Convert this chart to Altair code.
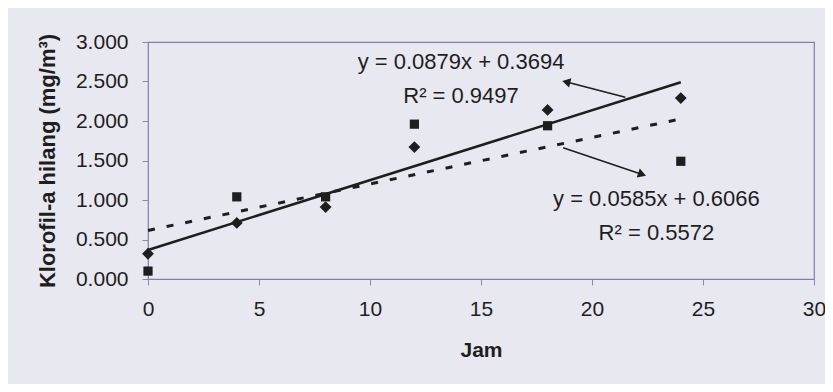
import altair as alt
import pandas as pd

# Observed data (hours vs chlorophyll-a lost)
jam = [0, 4, 8, 12, 18, 24]
diamond_vals = [0.32, 0.71, 0.91, 1.67, 2.14, 2.29]   # solid trend series
square_vals = [0.10, 1.04, 1.04, 1.96, 1.94, 1.49]    # dashed trend series

# Annotation texts and their anchor positions (data units)
ann_text = ["y = 0.0879x + 0.3694", "R\u00b2 = 0.9497", "y = 0.0585x + 0.6066", "R\u00b2 = 0.5572"]
ann_x = [14.1, 14.1, 22.9, 22.9]
ann_y = [2.75, 2.32, 1.01, 0.58]

# Arrows: tail -> head (data units)
arr_x1 = [21.5, 18.7]
arr_y1 = [2.30, 1.66]
arr_x2 = [18.9, 22.2]
arr_y2 = [2.49, 1.33]
arr_angle = [284, 109]

x_ticks = [0, 5, 10, 15, 20, 25, 30]
y_ticks = [0, 0.5, 1, 1.5, 2, 2.5, 3]

df_d = pd.DataFrame({"jam": jam, "val": diamond_vals})
df_s = pd.DataFrame({"jam": jam, "val": square_vals})
df_ann = pd.DataFrame({"jam": ann_x, "val": ann_y, "t": ann_text})
df_arr = pd.DataFrame({"jam": arr_x1, "val": arr_y1, "jam2": arr_x2, "val2": arr_y2, "ang": arr_angle})
df_head = pd.DataFrame({"jam": arr_x2, "val": arr_y2, "ang": arr_angle})

FONT = "Liberation Sans"
INK = "#1e1e1e"
FS = 21

xs = alt.Scale(domain=[0, 30], nice=False, zero=False)
ys = alt.Scale(domain=[0, 3], nice=False)

x_axis = alt.Axis(title="Jam", values=x_ticks, labelFontSize=FS, titleFontSize=FS, titleFontWeight="bold",
                  labelPadding=13, titlePadding=20, tickSize=6, labelOverlap=False, labelFlush=False,
                  domain=False, grid=False, labelColor=INK, titleColor=INK, tickColor="#8a8aa0")
y_axis = alt.Axis(title="Klorofil-a hilang (mg/m\u00b3)", values=y_ticks, format=".3f",
                  labelFontSize=FS, titleFontSize=22, titleFontWeight="bold",
                  labelPadding=14, titlePadding=16, tickSize=6, labelOverlap=False, labelFlush=False,
                  domain=False, grid=False, labelColor=INK, titleColor=INK, tickColor="#8a8aa0")

X = alt.X("jam:Q", scale=xs, axis=x_axis)
Y = alt.Y("val:Q", scale=ys, axis=y_axis)

solid = alt.Chart(df_d).transform_regression("jam", "val", extent=[0, 24]).mark_line(
    color=INK, strokeWidth=2.5).encode(x=X, y=Y)
dashed = alt.Chart(df_s).transform_regression("jam", "val", extent=[0, 24]).mark_line(
    color=INK, strokeWidth=3, strokeDash=[7, 12]).encode(x=X, y=Y)

diamonds = alt.Chart(df_d).mark_point(shape="diamond", filled=True, size=140, color=INK, opacity=1).encode(x=X, y=Y)
squares = alt.Chart(df_s).mark_point(shape="square", filled=True, size=85, color=INK, opacity=1).encode(x=X, y=Y)

texts = alt.Chart(df_ann).mark_text(font=FONT, fontSize=22, color=INK, align="center", baseline="middle").encode(
    x=X, y=Y, text="t:N")

arrows = alt.Chart(df_arr).mark_rule(color=INK, strokeWidth=1.6).encode(
    x=X, y=Y, x2="jam2:Q", y2="val2:Q")
heads = alt.Chart(df_head).mark_point(shape="triangle", filled=True, size=90, color=INK, opacity=1).encode(
    x=X, y=Y, angle=alt.Angle("ang:Q", scale=None))

chart = alt.layer(solid, dashed, diamonds, squares, arrows, heads, texts).properties(
    width=666, height=237,
    background="#e8e8f0",
    padding={"left": 140, "top": 34, "right": 11, "bottom": 105},
    autosize=alt.AutoSizeParams(type="none"),
).configure_view(stroke="#8080a8", strokeWidth=1.2, fill="#e8e8f0").configure_text(font=FONT).configure_axis(
    labelFont=FONT, titleFont=FONT)

chart.save("out.html", embed_options={"renderer": "svg", "actions": False})
